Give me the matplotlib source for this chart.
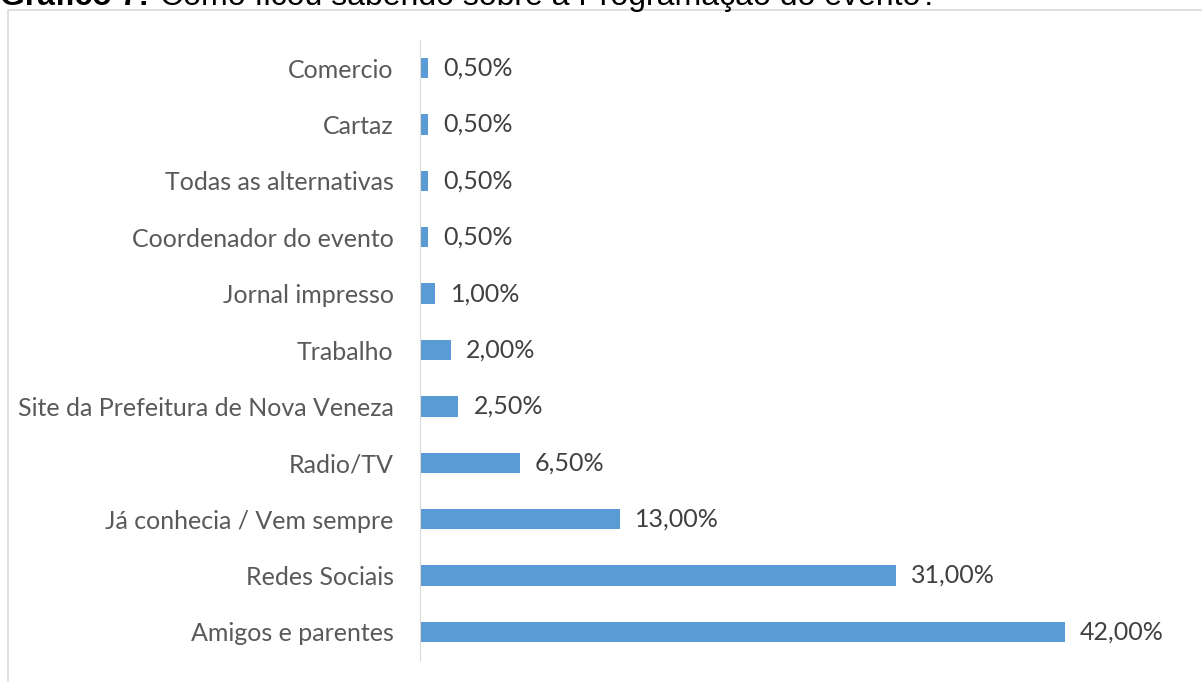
import matplotlib.pyplot as plt
from matplotlib.patches import Rectangle

categories = ["Amigos e parentes", "Redes Sociais", "Já conhecia / Vem sempre", "Radio/TV",
              "Site da Prefeitura de Nova Veneza", "Trabalho", "Jornal impresso",
              "Coordenador do evento", "Todas as alternativas", "Cartaz", "Comercio"]
values = [42.0, 31.0, 13.0, 6.5, 2.5, 2.0, 1.0, 0.5, 0.5, 0.5, 0.5]
value_labels = ["42,00%", "31,00%", "13,00%", "6,50%", "2,50%", "2,00%", "1,00%",
                "0,50%", "0,50%", "0,50%", "0,50%"]

W, H = 1202, 682
fig = plt.figure(figsize=(W / 100, H / 100), dpi=100)

# chart border
fig.patches.append(Rectangle((8 / W, -0.02), 1.1, 1 - 10 / H + 0.02, transform=fig.transFigure,
                             fill=False, edgecolor="#D9D9D9", linewidth=1.2))

# title, cut off at the top in the original
fig.text(0.0, 1 - 5 / H, "Gráfico 7:", fontsize=23, fontweight="bold",
         family="Liberation Sans", va="baseline", ha="left")
fig.text(160 / W, 1 - 5 / H, "Como ficou sabendo sobre a Programação do evento?", fontsize=23,
         family="Liberation Sans", va="baseline", ha="left")

ax = fig.add_axes([420 / W, 1 - 660 / H, 691 / W, 620 / H])
y = range(len(categories))
ax.barh(y, values, height=0.36, color="#5B9BD5")
ax.set_xlim(0, 45)
ax.set_ylim(-0.5, len(categories) - 0.5)
ax.set_yticks(list(y))
ax.set_yticklabels(categories, family="Lato", fontsize=18, color="#595959")
ax.tick_params(axis="y", length=0, pad=19)
ax.set_xticks([])
for s in ["top", "right", "bottom"]:
    ax.spines[s].set_visible(False)
ax.spines["left"].set_color("#D9D9D9")

for i, (v, lab) in enumerate(zip(values, value_labels)):
    ax.annotate(lab, (v, i), xytext=(11, 0), textcoords="offset points", va="center",
                ha="left", family="Lato", fontsize=18, color="#404040")

fig.savefig("out.png", dpi=100)
